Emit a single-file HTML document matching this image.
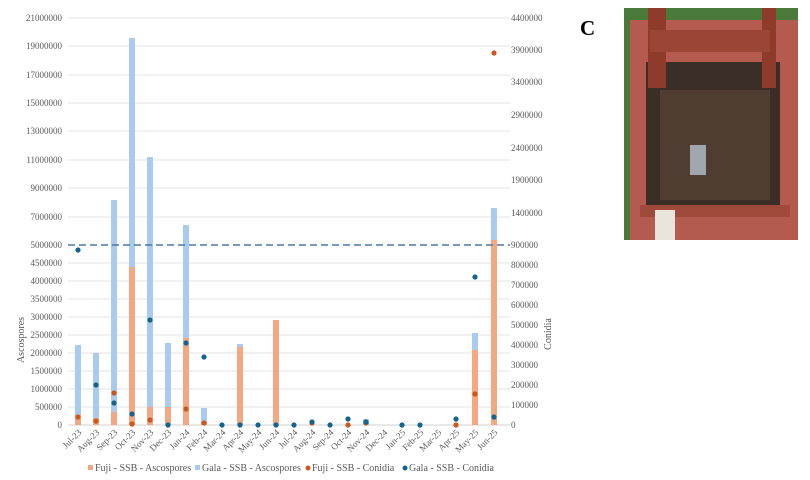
<!DOCTYPE html>
<html><head><style>body{margin:0;background:#fff}svg{display:block}text{font-family:"Liberation Serif",serif}</style></head>
<body>
<svg width="810" height="480" xmlns="http://www.w3.org/2000/svg">
<g stroke="#e3e3e3" stroke-width="1">
<line x1="68" x2="510" y1="18" y2="18"/><line x1="68" x2="510" y1="46" y2="46"/><line x1="68" x2="510" y1="75" y2="75"/><line x1="68" x2="510" y1="103" y2="103"/><line x1="68" x2="510" y1="131" y2="131"/><line x1="68" x2="510" y1="160" y2="160"/><line x1="68" x2="510" y1="188" y2="188"/><line x1="68" x2="510" y1="217" y2="217"/>
<line x1="68" x2="510" y1="263" y2="263"/><line x1="68" x2="510" y1="281" y2="281"/><line x1="68" x2="510" y1="299" y2="299"/><line x1="68" x2="510" y1="317" y2="317"/><line x1="68" x2="510" y1="335" y2="335"/><line x1="68" x2="510" y1="353" y2="353"/><line x1="68" x2="510" y1="371" y2="371"/><line x1="68" x2="510" y1="389" y2="389"/><line x1="68" x2="510" y1="407" y2="407"/>
</g>
<line x1="68" x2="510" y1="425" y2="425" stroke="#d0d0d0"/>
<g font-size="9" fill="#595959" text-anchor="end">
<text x="62" y="21">21000000</text><text x="62" y="49">19000000</text><text x="62" y="78">17000000</text><text x="62" y="106">15000000</text><text x="62" y="134">13000000</text><text x="62" y="163">11000000</text><text x="62" y="191">9000000</text><text x="62" y="220">7000000</text><text x="62" y="248">5000000</text>
<text x="62" y="266">4500000</text><text x="62" y="284">4000000</text><text x="62" y="302">3500000</text><text x="62" y="320">3000000</text><text x="62" y="338">2500000</text><text x="62" y="356">2000000</text><text x="62" y="374">1500000</text><text x="62" y="392">1000000</text><text x="62" y="410">500000</text><text x="62" y="428">0</text>
</g>
<g font-size="9" fill="#595959">
<text x="511" y="21">4400000</text><text x="511" y="53">3900000</text><text x="511" y="85">3400000</text><text x="511" y="118">2900000</text><text x="511" y="151">2400000</text><text x="511" y="183">1900000</text><text x="511" y="216">1400000</text><text x="511" y="248">900000</text>
<text x="511" y="268">800000</text><text x="511" y="288">700000</text><text x="511" y="308">600000</text><text x="511" y="328">500000</text><text x="511" y="348">400000</text><text x="511" y="368">300000</text><text x="511" y="388">200000</text><text x="511" y="408">100000</text><text x="511" y="428">0</text>
</g>
<text transform="translate(24,340) rotate(-90)" font-size="10" fill="#595959" text-anchor="middle">Ascospores</text>
<text transform="translate(551,334) rotate(-90)" font-size="10" fill="#595959" text-anchor="middle">Conidia</text>
<g fill="#a9cbed">
<rect x="75" y="345" width="6" height="80"/><rect x="93" y="353" width="6" height="72"/><rect x="111" y="200" width="6" height="225"/><rect x="129" y="38" width="6" height="387"/><rect x="147" y="157" width="6" height="268"/><rect x="165" y="343" width="6" height="82"/><rect x="183" y="225" width="6" height="200"/><rect x="201" y="408" width="6" height="17"/><rect x="237" y="344" width="6" height="81"/><rect x="363" y="419" width="6" height="6"/><rect x="472" y="333" width="6" height="92"/><rect x="491" y="208" width="6" height="217"/>
</g>
<g fill="#f4a882">
<rect x="75" y="415" width="6" height="10"/><rect x="93" y="418" width="6" height="7"/><rect x="111" y="412" width="6" height="13"/><rect x="129" y="267" width="6" height="158"/><rect x="147" y="407" width="6" height="18"/><rect x="165" y="407" width="6" height="18"/><rect x="183" y="338" width="6" height="87"/><rect x="201" y="422" width="6" height="3"/><rect x="237" y="347" width="6" height="78"/><rect x="273" y="320" width="6" height="105"/><rect x="472" y="350" width="6" height="75"/><rect x="491" y="240" width="6" height="185"/>
</g>
<line x1="68" x2="510" y1="245" y2="245" stroke="#4a78a8" stroke-width="1.5" stroke-dasharray="7,4"/>
<g fill="#d0561c">
<circle cx="78" cy="417" r="2.6"/><circle cx="96" cy="421" r="2.6"/><circle cx="114" cy="393" r="2.6"/><circle cx="132" cy="424" r="2.6"/><circle cx="150" cy="420" r="2.6"/><circle cx="186" cy="409" r="2.6"/><circle cx="204" cy="423" r="2.6"/><circle cx="312" cy="423" r="2.6"/><circle cx="348" cy="425" r="2.6"/><circle cx="366" cy="423" r="2.6"/><circle cx="456" cy="425" r="2.6"/><circle cx="475" cy="394" r="2.6"/><circle cx="494" cy="53" r="2.6"/>
</g>
<g fill="#14648f">
<circle cx="78" cy="250" r="2.6"/><circle cx="96" cy="385" r="2.6"/><circle cx="114" cy="403" r="2.6"/><circle cx="132" cy="414" r="2.6"/><circle cx="150" cy="320" r="2.6"/><circle cx="168" cy="425" r="2.6"/><circle cx="186" cy="343" r="2.6"/><circle cx="204" cy="357" r="2.6"/><circle cx="222" cy="425" r="2.6"/><circle cx="240" cy="425" r="2.6"/><circle cx="258" cy="425" r="2.6"/><circle cx="276" cy="425" r="2.6"/><circle cx="294" cy="425" r="2.6"/><circle cx="312" cy="422" r="2.6"/><circle cx="330" cy="425" r="2.6"/><circle cx="348" cy="419" r="2.6"/><circle cx="366" cy="422" r="2.6"/><circle cx="402" cy="425" r="2.6"/><circle cx="420" cy="425" r="2.6"/><circle cx="456" cy="419" r="2.6"/><circle cx="475" cy="277" r="2.6"/><circle cx="494" cy="417" r="2.6"/>
</g>
<g font-size="9" fill="#595959" text-anchor="end">
<text transform="translate(82,433) rotate(-45)">Jul-23</text><text transform="translate(100,433) rotate(-45)">Aug-23</text><text transform="translate(118,433) rotate(-45)">Sep-23</text><text transform="translate(136,433) rotate(-45)">Oct-23</text><text transform="translate(154,433) rotate(-45)">Nov-23</text><text transform="translate(172,433) rotate(-45)">Dec-23</text><text transform="translate(190,433) rotate(-45)">Jan-24</text><text transform="translate(208,433) rotate(-45)">Feb-24</text><text transform="translate(226,433) rotate(-45)">Mar-24</text><text transform="translate(244,433) rotate(-45)">Apr-24</text><text transform="translate(262,433) rotate(-45)">May-24</text><text transform="translate(280,433) rotate(-45)">Jun-24</text><text transform="translate(298,433) rotate(-45)">Jul-24</text><text transform="translate(316,433) rotate(-45)">Aug-24</text><text transform="translate(334,433) rotate(-45)">Sep-24</text><text transform="translate(352,433) rotate(-45)">Oct-24</text><text transform="translate(370,433) rotate(-45)">Nov-24</text><text transform="translate(388,433) rotate(-45)">Dec-24</text><text transform="translate(406,433) rotate(-45)">Jan-25</text><text transform="translate(424,433) rotate(-45)">Feb-25</text><text transform="translate(442,433) rotate(-45)">Mar-25</text><text transform="translate(460,433) rotate(-45)">Apr-25</text><text transform="translate(479,433) rotate(-45)">May-25</text><text transform="translate(498,433) rotate(-45)">Jun-25</text>
</g>
<g font-size="10" fill="#595959">
<rect x="88" y="465" width="5" height="5" fill="#f4a882"/><text x="95" y="471">Fuji - SSB - Ascospores</text>
<rect x="195" y="465" width="5" height="5" fill="#a9cbed"/><text x="202" y="471">Gala - SSB - Ascospores</text>
<circle cx="308" cy="468" r="2.5" fill="#d0561c"/><text x="312" y="471">Fuji - SSB - Conidia</text>
<circle cx="405" cy="468" r="2.5" fill="#14648f"/><text x="409" y="471">Gala - SSB - Conidia</text>
</g>
<text x="580" y="35" font-size="21" font-weight="bold" fill="#000">C</text>
<g>
<rect x="624" y="8" width="174" height="232" fill="#4a7a3a"/>
<rect x="630" y="20" width="168" height="220" fill="#b45a4e"/>
<rect x="646" y="62" width="134" height="145" fill="#3a2e26"/>
<rect x="660" y="90" width="110" height="110" fill="#4e3d30"/>
<rect x="648" y="8" width="18" height="80" fill="#8e3b2c"/>
<rect x="762" y="8" width="14" height="80" fill="#8e3b2c"/>
<rect x="650" y="30" width="120" height="22" fill="#9a4535"/>
<rect x="640" y="205" width="150" height="12" fill="#a04a3c"/>
<rect x="690" y="145" width="16" height="30" fill="#a0a6ad"/>
<rect x="655" y="210" width="20" height="30" fill="#e9e5dc"/>
</g>
</svg>
</body></html>
